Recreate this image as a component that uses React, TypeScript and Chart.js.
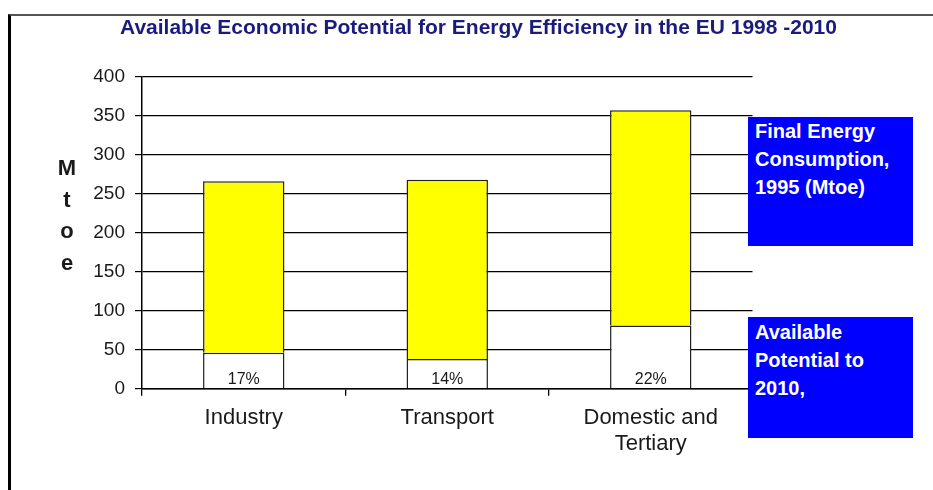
import React, { useEffect, useRef } from 'react';
import { Chart, registerables } from 'chart.js';

Chart.register(...registerables);

// ---- data ----
const categories: string[][] = [['Industry'], ['Transport'], ['Domestic and', 'Tertiary']];
const availablePotential: number[] = [46, 38, 81];
const remainingConsumption: number[] = [220, 230, 276];
const shareLabels: string[] = ['17%', '14%', '22%'];
const yAxisLetters: string[] = ['M', 't', 'o', 'e'];
const yMin = 0;
const yMax = 400;
const yStep = 50;
const titleText = 'Available Economic Potential for Energy Efficiency in the EU 1998 -2010';
const legendFinal: string[] = ['Final Energy', 'Consumption,', '1995 (Mtoe)'];
const legendPotential: string[] = ['Available', 'Potential to', '2010,'];

const FONT = '"Liberation Sans", Arial, sans-serif';

const overlayPlugin = {
  id: 'overlay',
  afterDatasetsDraw(chart: any) {
    const ctx = chart.ctx;
    const y = chart.scales.y;
    const x = chart.scales.x;
    ctx.save();
    ctx.fillStyle = '#1a1a1a';
    ctx.font = `16px ${FONT}`;
    ctx.textAlign = 'center';
    ctx.textBaseline = 'alphabetic';
    const base = y.getPixelForValue(0);
    shareLabels.forEach((lbl, i) => {
      ctx.fillText(lbl, x.getPixelForValue(i), base - 4.5);
    });
    ctx.restore();
  },
  afterDraw(chart: any) {
    const ctx = chart.ctx;
    ctx.save();
    // title
    ctx.fillStyle = '#1b1b7e';
    ctx.font = `bold 21px ${FONT}`;
    ctx.textAlign = 'center';
    ctx.textBaseline = 'alphabetic';
    ctx.fillText(titleText, 478.5, 34);
    // vertical axis title letters
    ctx.fillStyle = '#1a1a1a';
    ctx.font = `bold 22px ${FONT}`;
    yAxisLetters.forEach((ch, i) => {
      ctx.fillText(ch, 67, 175 + i * 31.7);
    });
    ctx.restore();
  },
};

export default function App() {
  const canvasRef = useRef<HTMLCanvasElement | null>(null);

  useEffect(() => {
    if (!canvasRef.current) return;
    const chart = new Chart(canvasRef.current, {
      type: 'bar',
      data: {
        labels: categories,
        datasets: [
          {
            label: 'Available Potential to 2010',
            data: availablePotential,
            backgroundColor: '#ffffff',
            borderColor: '#222222',
            borderWidth: 1.5,
            borderSkipped: 'start',
            barPercentage: 0.4,
            categoryPercentage: 1,
          },
          {
            label: 'Final Energy Consumption, 1995 (Mtoe)',
            data: remainingConsumption,
            backgroundColor: '#ffff00',
            borderColor: '#222222',
            borderWidth: 1.5,
            borderSkipped: 'start',
            barPercentage: 0.4,
            categoryPercentage: 1,
          },
        ],
      },
      options: {
        animation: false,
        responsive: true,
        maintainAspectRatio: false,
        layout: { padding: { top: 76.7, right: 180.5, bottom: 0, left: 0 } },
        plugins: {
          legend: { display: false },
          title: { display: false },
          tooltip: { enabled: false },
        },
        scales: {
          x: {
            stacked: true,
            afterFit: (s: any) => {
              s.height = 101.3;
            },
            grid: {
              display: true,
              offset: true,
              drawOnChartArea: false,
              drawTicks: true,
              tickLength: 7,
              color: '#000000',
              lineWidth: 1.3,
            },
            border: { display: true, color: '#000000', width: 1.5 },
            ticks: {
              color: '#1a1a1a',
              font: { family: FONT, size: 22 },
              padding: 9,
              maxRotation: 0,
            },
          },
          y: {
            stacked: true,
            min: yMin,
            max: yMax,
            afterFit: (s: any) => {
              s.width = 142;
            },
            grid: {
              color: '#000000',
              lineWidth: 1.2,
              drawTicks: true,
              tickLength: 7,
            },
            border: { display: true, color: '#000000', width: 1.5 },
            ticks: {
              stepSize: yStep,
              color: '#1a1a1a',
              font: { family: FONT, size: 19 },
              padding: 10,
            },
          },
        },
      },
      plugins: [overlayPlugin],
    });
    return () => chart.destroy();
  }, []);

  const boxStyle: React.CSSProperties = {
    position: 'absolute',
    left: 748,
    width: 165,
    background: '#0000ff',
    color: '#ffffff',
    fontFamily: FONT,
    fontWeight: 'bold',
    fontSize: 20,
    lineHeight: '28px',
    padding: '0 7px',
    boxSizing: 'border-box',
    whiteSpace: 'nowrap',
  };

  return (
    <div
      style={{
        position: 'absolute',
        left: 0,
        top: 0,
        width: 933,
        height: 490,
        overflow: 'hidden',
        background: '#ffffff',
      }}
    >
      <div
        style={{
          position: 'absolute',
          left: 8,
          top: 14,
          width: 1000,
          height: 600,
          borderLeft: '3px solid #000000',
          borderTop: '2px solid #555555',
        }}
      />
      <div style={{ position: 'absolute', left: 0, top: 0, width: 933, height: 490 }}>
        <canvas ref={canvasRef} />
      </div>
      <div style={{ ...boxStyle, top: 117, height: 129, paddingTop: 0 }}>
        {legendFinal.map((t) => (
          <div key={t}>{t}</div>
        ))}
      </div>
      <div style={{ ...boxStyle, top: 317, height: 121, paddingTop: 1 }}>
        {legendPotential.map((t) => (
          <div key={t}>{t}</div>
        ))}
      </div>
    </div>
  );
}
